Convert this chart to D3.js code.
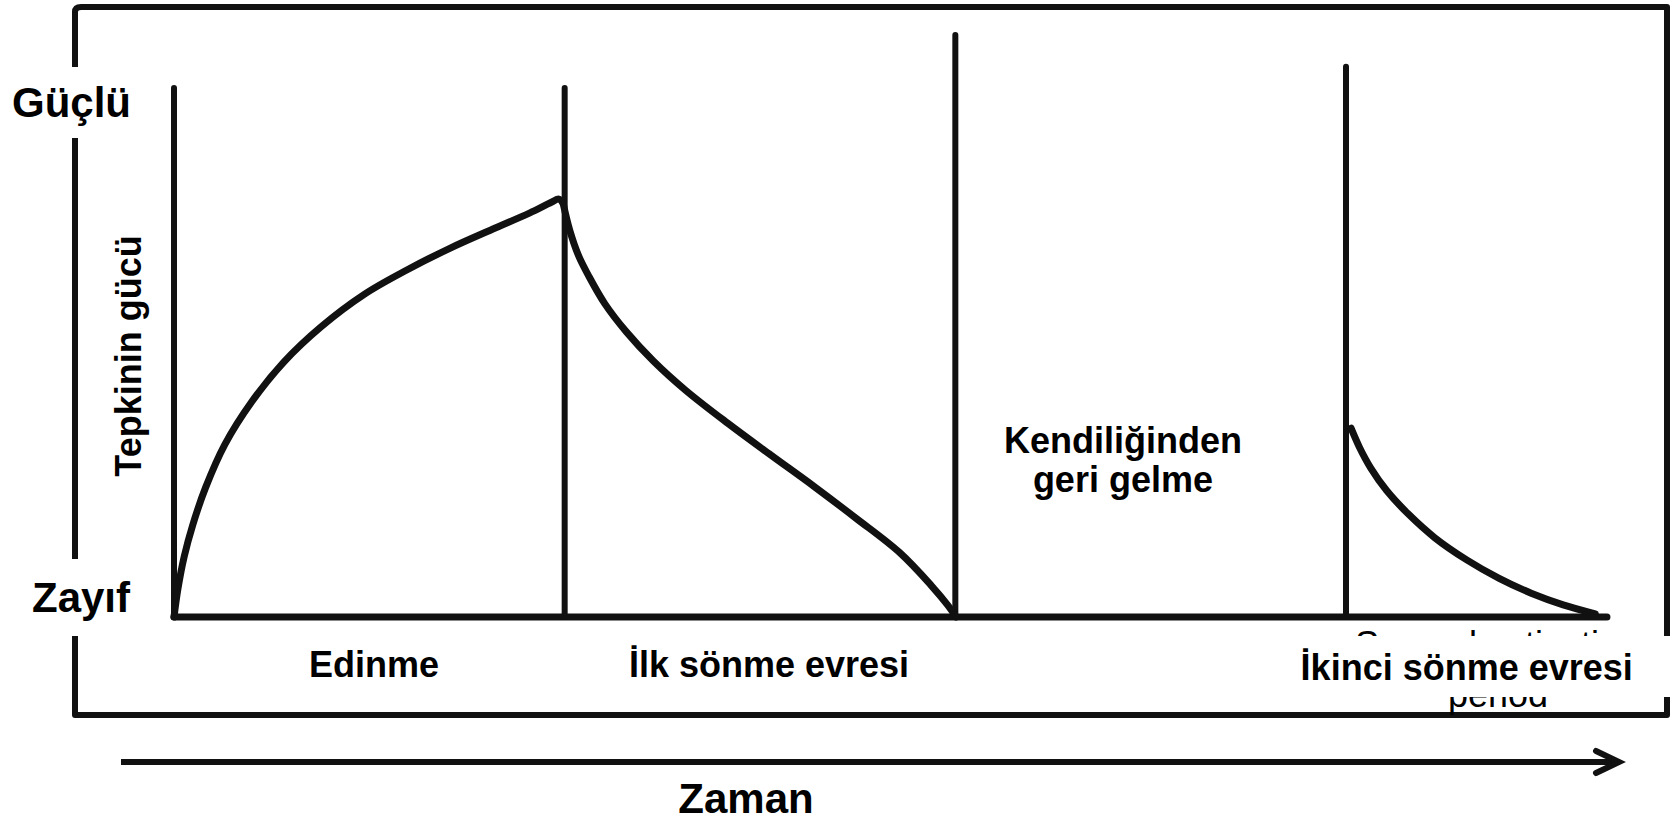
<!DOCTYPE html>
<html>
<head>
<meta charset="utf-8">
<script src="https://cdn.jsdelivr.net/npm/d3@7/dist/d3.min.js"></script>
<style>
  html, body { margin: 0; padding: 0; background: #fff; }
  svg { display: block; }
  text { font-family: "Liberation Sans", Arial, Helvetica, sans-serif; font-weight: bold; fill: #000; }
</style>
</head>
<body>
<svg id="chart" width="1679" height="821"></svg>
<script>
// ---- data (time in phase units, strength 0 = Zayıf, 100 = Güçlü) ----
const phaseBoundaries = [0, 1, 2, 3];
const dividerTops = [100, 100, 110, 104];
const timeEnd = 3.668;

const acquisitionT = [0, 0.010, 0.026, 0.048, 0.081, 0.130, 0.199, 0.281, 0.377, 0.487, 0.596, 0.706, 0.815, 0.911, 0.966, 0.985, 0.996];
const acquisitionS = [0, 5.3, 11.4, 17.4, 24.5, 32.6, 40.7, 48.2, 54.9, 61.0, 65.6, 69.7, 73.3, 76.4, 78.4, 79.0, 78.2];

const extinction1T = [0.996, 1.013, 1.035, 1.062, 1.103, 1.158, 1.227, 1.309, 1.418, 1.528, 1.638, 1.747, 1.857, 1.939, 1.980, 2.002];
const extinction1S = [78.2, 73.1, 68.4, 64.4, 59.2, 53.9, 48.4, 42.9, 36.6, 30.6, 24.7, 18.6, 12.2, 5.9, 2.3, 0];

const extinction2T = [3.013, 3.035, 3.063, 3.104, 3.159, 3.227, 3.309, 3.392, 3.474, 3.556, 3.638];
const extinction2S = [35.7, 32.0, 28.2, 23.9, 19.5, 15.0, 10.8, 7.3, 4.5, 2.3, 0.6];

const yLabelTop = "Güçlü";
const yLabelBottom = "Zayıf";
const yTitle = "Tepkinin gücü";
const phaseLabels = ["Edinme", "İlk sönme evresi", "İkinci sönme evresi"];
const recoveryLabel = ["Kendiliğinden", "geri gelme"];
const hiddenLabel = ["Second extinction", "period"];
const xTitle = "Zaman";

// ---- scales ----
const x = d3.scaleLinear().domain([0, 3]).range([174, 1346]);
const y = d3.scaleLinear().domain([0, 100]).range([617, 88]);

const svg = d3.select("#chart");
const ink = "#111";

// outer frame
svg.append("path")
  .attr("d", "M75,12 Q75,7 81,7 L1667,7 L1667,715 L75,715 Z")
  .attr("fill", "none").attr("stroke", ink).attr("stroke-width", 6)
  .attr("stroke-linejoin", "round");

// baseline
svg.append("line")
  .attr("x1", x(0)).attr("x2", x(timeEnd))
  .attr("y1", y(0)).attr("y2", y(0))
  .attr("stroke", ink).attr("stroke-width", 7).attr("stroke-linecap", "round");

// phase dividers
svg.selectAll("line.div").data(phaseBoundaries).join("line")
  .attr("class", "div")
  .attr("x1", d => x(d)).attr("x2", d => x(d))
  .attr("y1", (d, i) => y(dividerTops[i])).attr("y2", y(0))
  .attr("stroke", ink).attr("stroke-width", 6).attr("stroke-linecap", "round");

// curves
const line = d3.line().x(d => x(d[0])).y(d => y(d[1])).curve(d3.curveCatmullRom.alpha(0.5));
const curves = [
  d3.zip(acquisitionT, acquisitionS),
  d3.zip(extinction1T, extinction1S),
  d3.zip(extinction2T, extinction2S)
];
svg.selectAll("path.curve").data(curves).join("path")
  .attr("class", "curve")
  .attr("d", line)
  .attr("fill", "none").attr("stroke", ink).attr("stroke-width", 7)
  .attr("stroke-linecap", "round").attr("stroke-linejoin", "round");

// partially hidden original text under the second-extinction label
svg.append("text").attr("x", 1497).attr("y", 657).attr("text-anchor", "middle")
  .style("font-weight", "normal").style("font-size", "36px").text(hiddenLabel[0]);
svg.append("text").attr("x", 1498).attr("y", 707).attr("text-anchor", "middle")
  .style("font-weight", "normal").style("font-size", "36px").text(hiddenLabel[1]);

// white label patches
svg.append("rect").attr("x", 0).attr("y", 67).attr("width", 140).attr("height", 71).attr("fill", "#fff");
svg.append("rect").attr("x", 0).attr("y", 559).attr("width", 140).attr("height", 77).attr("fill", "#fff");
svg.append("rect").attr("x", 1290).attr("y", 636).attr("width", 389).attr("height", 61).attr("fill", "#fff");

// y-level labels
svg.append("text").attr("x", 12).attr("y", 117).style("font-size", "42px").text(yLabelTop);
svg.append("text").attr("x", 32).attr("y", 612).style("font-size", "42px").text(yLabelBottom);

// y title
svg.append("text").attr("transform", "translate(141,356) rotate(-90)")
  .attr("text-anchor", "middle").style("font-size", "36px").text(yTitle);

// phase labels
const phaseLabelT = [0.512, 1.523, 3.309];
svg.selectAll("text.phase").data(phaseLabels).join("text")
  .attr("class", "phase")
  .attr("x", (d, i) => x(phaseLabelT[i]))
  .attr("y", (d, i) => i === 2 ? 680 : 677)
  .attr("text-anchor", "middle").style("font-size", "36px")
  .text(d => d);

// spontaneous recovery label
svg.selectAll("text.rec").data(recoveryLabel).join("text")
  .attr("class", "rec")
  .attr("x", x(2.429))
  .attr("y", (d, i) => 453 + i * 39)
  .attr("text-anchor", "middle").style("font-size", "36px")
  .text(d => d);

// time arrow
svg.append("line").attr("x1", 121).attr("x2", 1617).attr("y1", 762).attr("y2", 762)
  .attr("stroke", ink).attr("stroke-width", 6);
svg.append("path").attr("d", "M1596,751 L1619,762 L1596,773")
  .attr("fill", "none").attr("stroke", ink).attr("stroke-width", 6)
  .attr("stroke-linecap", "round").attr("stroke-linejoin", "miter");

svg.append("text").attr("x", 746).attr("y", 813).attr("text-anchor", "middle")
  .style("font-size", "42px").text(xTitle);
</script>
</body>
</html>
